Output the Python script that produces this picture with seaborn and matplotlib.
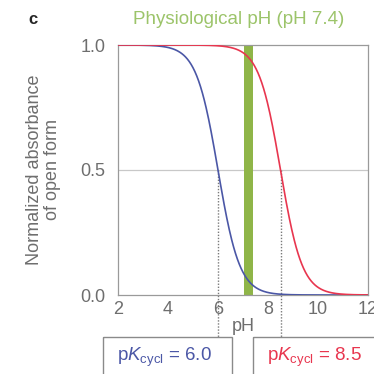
import numpy as np
import pandas as pd
import matplotlib
matplotlib.use("Agg")
import matplotlib.pyplot as plt
from matplotlib.patches import Rectangle
import seaborn as sns

# Cyclization constants of the two dyes
dyes = ["dye A", "dye B"]
pk_cycl = [6.0, 8.5]
dye_colors = ["#4b57a6", "#e8364f"]
ph_grid = np.linspace(2, 12, 401)
physio_ph = 7.4
y_ticks = [0.0, 0.5, 1.0]
x_ticks = [2, 4, 6, 8, 10, 12]

# Fraction of open form from the pK (Henderson–Hasselbalch)
frames = []
for name, pk in zip(dyes, pk_cycl):
    frames.append(pd.DataFrame({
        "pH": ph_grid,
        "open": 1.0 / (1.0 + 10 ** (ph_grid - pk)),
        "dye": name,
    }))
df = pd.concat(frames, ignore_index=True)

sns.set_style("white")
plt.rcParams["font.family"] = ["Liberation Sans", "DejaVu Sans"]
plt.rcParams["mathtext.fontset"] = "custom"
plt.rcParams["mathtext.rm"] = "Liberation Sans"
plt.rcParams["mathtext.it"] = "Liberation Sans:italic"

fig = plt.figure(figsize=(3.74, 3.74), dpi=100)
ax = fig.add_axes([118 / 374, 1 - 295 / 374, 250 / 374, 250 / 374])

grey = "#9a9a9a"
text_grey = "#6e6e6e"

ax.axhline(0.5, color="#c8c8c8", lw=0.9, zorder=0)
ax.axvspan(physio_ph - 0.35, physio_ph, color="#8fb548", lw=0, zorder=1)

sns.lineplot(data=df, x="pH", y="open", hue="dye", palette=dye_colors,
             lw=1.2, legend=False, ax=ax, zorder=3)

ax.set_xlim(2, 12)
ax.set_ylim(0, 1)
ax.set_xticks(x_ticks)
ax.set_yticks(y_ticks)
ax.set_yticklabels([f"{v:.1f}" for v in y_ticks])
ax.tick_params(axis="both", colors=grey, labelcolor=text_grey, labelsize=13,
               length=5, width=0.9, direction="out")
ax.tick_params(axis="x", pad=1, length=3)
ax.tick_params(axis="y", pad=4)
for sp in ax.spines.values():
    sp.set_color(grey)
    sp.set_linewidth(0.9)

ax.set_xlabel("pH", color=text_grey, fontsize=13, labelpad=0)
ax.set_ylabel("Normalized absorbance\nof open form", color=text_grey,
              fontsize=13, labelpad=14, linespacing=1.05)

# Dotted markers at each pK running down to the value boxes
box_top = -0.168
for pk, col in zip(pk_cycl, dye_colors):
    ax.plot([pk, pk], [0.5, box_top], ls=(0, (1, 1.2)), color="#7a7a7a",
            lw=1.0, clip_on=False, zorder=2)

box_spans = [(1.4, 6.56), (7.4, 13.5)]
for (x0, x1), pk, col in zip(box_spans, pk_cycl, dye_colors):
    ax.add_patch(Rectangle((x0, box_top), x1 - x0, -0.4, fill=False,
                           ec="#8a8a8a", lw=1.0, clip_on=False,
                           transform=ax.transData))
    ax.text(x0 + 0.55, -0.25, rf"p$\it{{K}}_{{\rm cycl}}$ = {pk:.1f}",
            color=col, fontsize=13.5, ha="left", va="center", clip_on=False)

fig.text(239 / 374, 1 - 19 / 374, f"Physiological pH (pH {physio_ph})",
         color="#9cc46a", fontsize=13.5, ha="center", va="center")
fig.text(33 / 374, 1 - 19 / 374, "c", fontsize=12, fontweight="bold",
         ha="center", va="center")

fig.savefig("out.png", dpi=100)
